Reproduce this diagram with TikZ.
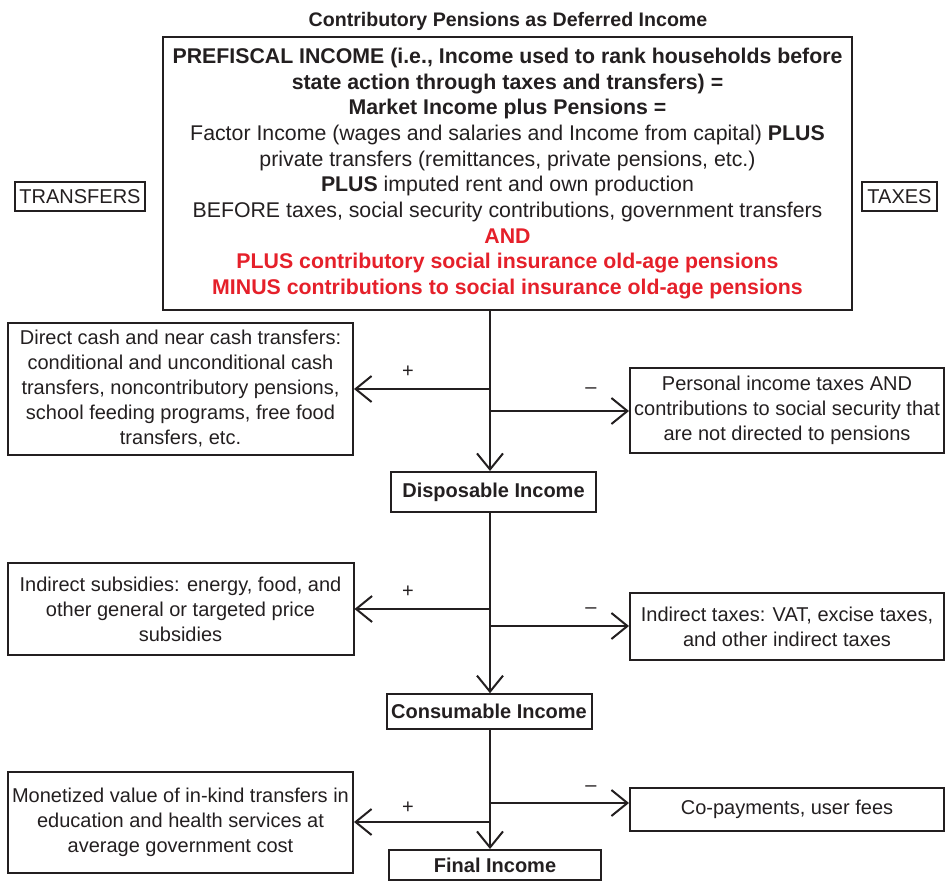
\documentclass[tikz,border=0pt]{standalone}
\usepackage{fontspec}
\setmainfont{Liberation Sans}
\usetikzlibrary{arrows.meta}
\definecolor{ink}{HTML}{231F20}
\definecolor{redtxt}{HTML}{E5202A}
\begin{document}
\begin{tikzpicture}[x=1pt,y=-1pt,
  box/.style={draw=ink, line width=2pt, rectangle, inner sep=0pt, align=center, text=ink, font=\fontsize{20}{25}\selectfont},
  boldbox/.style={box, font=\bfseries\fontsize{20}{24}\selectfont},
  tagbox/.style={box, line width=1.5pt},
  arr/.style={draw=ink, line width=2pt, -{Straight Barb[length=16pt,width=26pt]}},
  sign/.style={text=ink, font=\fontsize{20}{24}\selectfont, inner sep=0pt}]
\useasboundingbox (0,0) rectangle (950,884);

\node[anchor=base, font=\bfseries\fontsize{19.6}{24}\selectfont, text=ink] (title) at (508,26.5) {Contributory Pensions as Deferred Income};

\node[box, minimum width=689pt, minimum height=273pt, font=\fontsize{21.3}{25.7}\selectfont] (top) at (507.5,173.5)
 {\textbf{PREFISCAL INCOME (i.e., Income used to rank households before}\\
  \textbf{state action through taxes and transfers) =}\\
  \textbf{Market Income plus Pensions =}\\
  Factor Income (wages and salaries and Income from capital) \textbf{PLUS}\\
  private transfers (remittances, private pensions, etc.)\\
  \textbf{PLUS} imputed rent and own production\\
  BEFORE taxes, social security contributions, government transfers\\
  \textcolor{redtxt}{\textbf{AND}}\\
  \textcolor{redtxt}{\textbf{PLUS contributory social insurance old-age pensions}}\\
  \textcolor{redtxt}{\textbf{MINUS contributions to social insurance old-age pensions}}};

\node[tagbox, minimum width=130pt, minimum height=29pt] (transfers) at (80,196.5) {TRANSFERS};
\node[tagbox, minimum width=75pt, minimum height=29pt] (taxes) at (899.5,196.5) {TAXES};

\node[box, minimum width=345pt, minimum height=132pt] (L1) at (180.5,389)
 {Direct cash and near cash transfers:\\ conditional and unconditional cash\\ transfers, noncontributory pensions,\\ school feeding programs, free food\\ transfers, etc.};
\node[box, minimum width=314pt, minimum height=85pt] (R1) at (787,410.5)
 {Personal income taxes AND\\ contributions to social security that\\ are not directed to pensions};
\node[boldbox, minimum width=205pt, minimum height=40pt] (disp) at (493.5,492) {Disposable Income};

\node[box, minimum width=346pt, minimum height=92pt] (L2) at (180.5,609)
 {Indirect subsidies: energy, food, and\\ other general or targeted price\\ subsidies};
\node[box, minimum width=314pt, minimum height=67pt] (R2) at (787,626.5)
 {Indirect taxes: VAT, excise taxes,\\ and other indirect taxes};
\node[boldbox, minimum width=205pt, minimum height=35pt] (cons) at (489,711.7) {Consumable Income};

\node[box, minimum width=345pt, minimum height=101pt] (L3) at (180.5,822.5)
 {Monetized value of in-kind transfers in\\ education and health services at\\ average government cost};
\node[box, minimum width=314pt, minimum height=43pt] (R3) at (787,809) {Co-payments, user fees};
\node[boldbox, minimum width=212pt, minimum height=30pt] (final) at (495,865) {Final Income};

\coordinate (j1l) at (490,389);
\coordinate (j1r) at (490,411);
\coordinate (j2l) at (490,609);
\coordinate (j2r) at (490,626);
\coordinate (j3r) at (490,803);
\coordinate (j3l) at (490,822);

\draw[arr] (j1l |- top.south) -- (j1l |- disp.north);
\draw[arr] (j1l) -- (L1.east |- j1l);
\draw[arr] (j1r) -- (R1.west |- j1r);
\draw[arr] (j1l |- disp.south) -- (j1l |- cons.north);
\draw[arr] (j2l) -- (L2.east |- j2l);
\draw[arr] (j2r) -- (R2.west |- j2r);
\draw[arr] (j1l |- cons.south) -- (j1l |- final.north);
\draw[arr] (j3l) -- (L3.east |- j3l);
\draw[arr] (j3r) -- (R3.west |- j3r);

\node[sign] (p1) at (408,372) {+};
\node[sign] (m1) at (591,391) {–};
\node[sign] (p2) at (408,592) {+};
\node[sign] (m2) at (591,611) {–};
\node[sign] (p3) at (408,808) {+};
\node[sign] (m3) at (591,789) {–};
\end{tikzpicture}
\end{document}
